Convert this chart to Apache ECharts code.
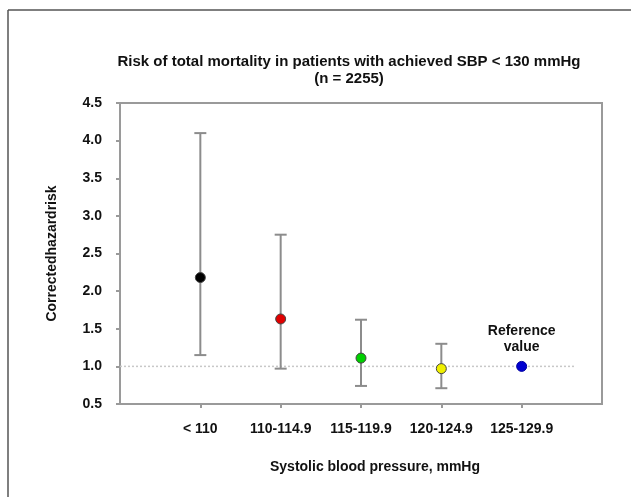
<!DOCTYPE html>
<html>
<head>
<meta charset="utf-8">
<script src="https://cdn.jsdelivr.net/npm/echarts@6/dist/echarts.min.js"></script>
<style>
  html, body { margin: 0; padding: 0; background: #fff; }
  #chart { width: 631px; height: 497px; }
</style>
</head>
<body>
<div id="chart"></div>
<script>
const categories = ['< 110', '110-114.9', '115-119.9', '120-124.9', '125-129.9'];
const hazard = [2.18, 1.63, 1.11, 0.97, 1.0];
const ciLow = [1.15, 0.97, 0.74, 0.71, null];
const ciHigh = [4.1, 2.75, 1.62, 1.3, null];
const pointColors = ['#000000', '#e00000', '#00d000', '#f0f000', '#0000d0'];
const yTicks = [0.5, 1.0, 1.5, 2.0, 2.5, 3.0, 3.5, 4.0, 4.5];
const referenceLevel = 1.0;

const font = 'Liberation Sans, Arial, sans-serif';
const chart = echarts.init(document.getElementById('chart'));

const xPos = categories.map((c, i) => i + 1);

const option = {
  animation: false,
  title: {
    text: 'Risk of total mortality in patients with achieved SBP < 130 mmHg\n(n = 2255)',
    left: 349,
    top: 53,
    padding: 0,
    textAlign: 'center',
    textStyle: { fontFamily: font, fontSize: 15, fontWeight: 'bold', color: '#111', lineHeight: 17 }
  },
  grid: {
    left: 120, right: 29, top: 103, bottom: 93,
    show: true, borderColor: '#9a9a9a', borderWidth: 2, backgroundColor: 'transparent'
  },
  xAxis: {
    type: 'value',
    min: 0, max: 6, interval: 1,
    name: 'Systolic blood pressure, mmHg',
    nameLocation: 'middle',
    nameGap: 56,
    nameTextStyle: { fontFamily: font, fontSize: 14, fontWeight: 'bold', color: '#111', padding: [0, 0, 0, 28] },
    axisLine: { lineStyle: { color: '#9a9a9a', width: 2 } },
    axisTick: { show: true, length: 4, customValues: xPos, lineStyle: { color: '#9a9a9a', width: 2 } },
    axisLabel: {
      customValues: xPos,
      margin: 18,
      fontFamily: font, fontSize: 14, fontWeight: 'bold', color: '#111',
      formatter: v => categories[Math.round(v) - 1] || ''
    },
    splitLine: { show: false }
  },
  yAxis: {
    type: 'value',
    min: yTicks[0], max: yTicks[yTicks.length - 1], interval: 0.5,
    name: 'Correctedhazardrisk',
    nameLocation: 'middle',
    nameGap: 61,
    nameTextStyle: { fontFamily: font, fontSize: 14, fontWeight: 'bold', color: '#111' },
    axisLine: { show: true, lineStyle: { color: '#9a9a9a', width: 2 } },
    axisTick: { show: true, length: 4, lineStyle: { color: '#9a9a9a', width: 2 } },
    axisLabel: {
      margin: 18,
      fontFamily: font, fontSize: 14, fontWeight: 'bold', color: '#111',
      formatter: v => v.toFixed(1)
    },
    splitLine: { show: false }
  },
  series: [
    {
      type: 'custom',
      data: xPos.map((x, i) => [x, ciLow[i], ciHigh[i]]).filter(d => d[1] != null),
      renderItem: (params, api) => {
        const lo = api.coord([api.value(0), api.value(1)]);
        const hi = api.coord([api.value(0), api.value(2)]);
        const cap = 6;
        const style = { stroke: '#8c8c8c', lineWidth: 2 };
        return {
          type: 'group',
          children: [
            { type: 'line', shape: { x1: lo[0], y1: lo[1], x2: hi[0], y2: hi[1] }, style },
            { type: 'line', shape: { x1: hi[0] - cap, y1: hi[1], x2: hi[0] + cap, y2: hi[1] }, style },
            { type: 'line', shape: { x1: lo[0] - cap, y1: lo[1], x2: lo[0] + cap, y2: lo[1] }, style }
          ]
        };
      },
      z: 2
    },
    {
      type: 'line',
      data: [[0, referenceLevel], [5.67, referenceLevel]],
      symbol: 'none',
      lineStyle: { color: '#c8c8c8', width: 1.5, type: [2, 2] },
      z: 1,
      silent: true
    },
    {
      type: 'scatter',
      symbolSize: 10,
      itemStyle: { opacity: 1 },
      data: xPos.map((x, i) => ({
        value: [x, hazard[i]],
        itemStyle: { color: pointColors[i], opacity: 1, borderColor: i === 4 ? '#0000a0' : '#444', borderWidth: 1 },
        label: i === 4 ? {
          show: true,
          position: 'top',
          distance: 6,
          formatter: 'Reference\nvalue',
          fontFamily: font, fontSize: 14, fontWeight: 'bold', color: '#111', lineHeight: 16
        } : { show: false }
      })),
      z: 3
    }
  ],
  graphic: [
    { type: 'line', shape: { x1: 8, y1: 10, x2: 631, y2: 10 }, style: { stroke: '#555', lineWidth: 1.5 } },
    { type: 'line', shape: { x1: 8, y1: 10, x2: 8, y2: 497 }, style: { stroke: '#555', lineWidth: 1.5 } }
  ]
};

chart.setOption(option);
</script>
</body>
</html>
